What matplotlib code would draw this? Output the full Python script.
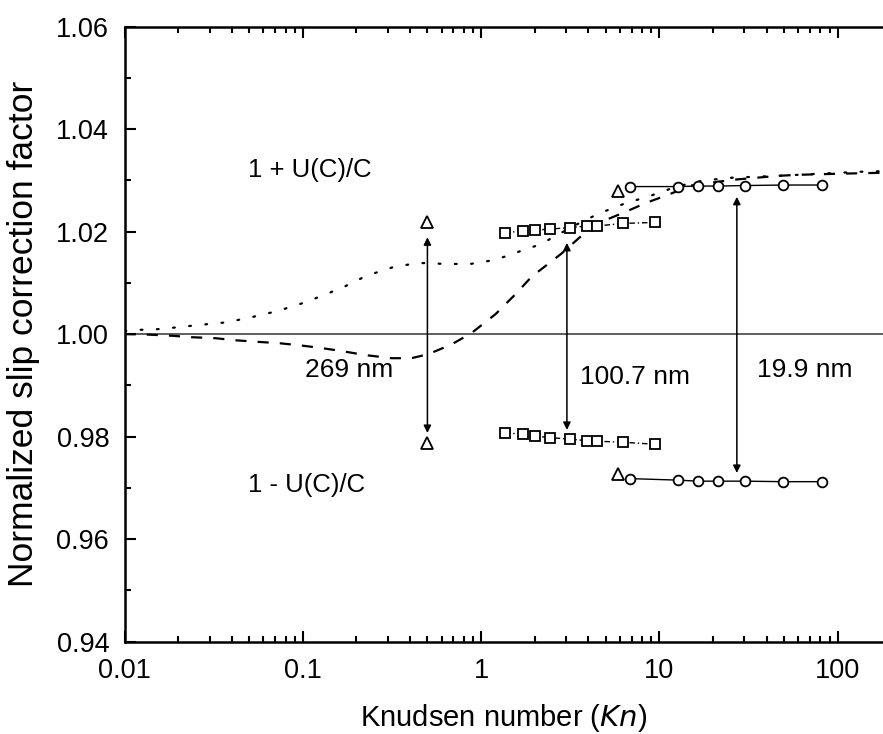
import matplotlib
matplotlib.use("Agg")
import matplotlib.pyplot as plt
from matplotlib.ticker import FixedLocator, NullFormatter, LogLocator

plt.rcParams['font.family'] = ['Liberation Sans', 'DejaVu Sans']

# dotted curve
dot_kn = [0.01, 0.0115, 0.0161, 0.0264, 0.0373, 0.0515, 0.0721, 0.101, 0.118, 0.165, 0.228, 0.323,
          0.446, 0.631, 0.872, 1.205, 1.66, 2.02, 2.39, 3.30, 4.55, 6.29, 8.91, 12.5, 17.2, 24.4,
          46.6, 78, 136, 180]
dot_y = [1.0006, 1.0008, 1.0010, 1.0018, 1.0023, 1.0033, 1.0045, 1.0061, 1.0070, 1.0090, 1.0114, 1.0131,
         1.0139, 1.0137, 1.0137, 1.0145, 1.0162, 1.0172, 1.0184, 1.0211, 1.0235, 1.0254, 1.0270, 1.0288,
         1.0299, 1.0305, 1.0309, 1.0313, 1.0317, 1.0318]

# dashed curve
dash_kn = [0.01, 0.0136, 0.0181, 0.0237, 0.0324, 0.0419, 0.0504, 0.075, 0.097, 0.126, 0.165, 0.225,
           0.315, 0.407, 0.507, 0.683, 0.883, 1.205, 1.56, 1.92, 2.82, 3.66, 4.55, 6.3, 8.4, 11.2,
           15.0, 25.4, 46.6, 61, 100, 180]
dash_y = [1.0000, 0.9999, 0.9997, 0.9994, 0.9992, 0.9988, 0.9986, 0.9982, 0.9978, 0.9973, 0.9967, 0.9959,
          0.9953, 0.9953, 0.9961, 0.9980, 1.0002, 1.0039, 1.0078, 1.0112, 1.0157, 1.0192, 1.0217, 1.0237,
          1.0256, 1.0272, 1.0290, 1.0301, 1.0309, 1.0311, 1.0313, 1.0315]

# 269 nm triangles
tri_kn = [0.50, 0.50]
tri_y = [1.0219, 0.9787]

# 100.7 nm squares
sq_kn = [1.36, 1.71, 2.01, 2.44, 3.15, 3.95, 4.45, 6.23, 9.45]
sq_up = [1.0197, 1.0202, 1.0203, 1.0205, 1.0208, 1.0211, 1.0211, 1.0216, 1.0218]
sq_lo = [0.9807, 0.9805, 0.9801, 0.9798, 0.9795, 0.9792, 0.9791, 0.9789, 0.9785]

# 19.9 nm triangle + circles
tri2_kn = [5.85, 5.85]
tri2_y = [1.0280, 0.9727]
ci_kn = [6.84, 12.7, 16.4, 21.3, 30.2, 49.4, 81.7]
ci_up = [1.0288, 1.0288, 1.0289, 1.0289, 1.0290, 1.0291, 1.0291]
ci_lo = [0.9718, 0.9715, 0.9713, 0.9713, 0.9713, 0.9712, 0.9712]

# arrows (Kn, top, bottom)
arr_kn = [0.50, 3.03, 27.2]
arr_top = [1.0189, 1.0178, 1.0268]
arr_bot = [0.9807, 0.9813, 0.9729]

labels = ["269 nm", "100.7 nm", "19.9 nm"]
label_kn = [0.103, 3.59, 35.2]
label_y = [0.9930, 0.9916, 0.9930]

fig = plt.figure(figsize=(8.83, 7.34), dpi=100)
ax = fig.add_axes([0.141, 0.126, 0.859, 0.8376])
ax.set_xscale('log')
ax.set_xlim(0.01, 179.6)
ax.set_ylim(0.94, 1.06)

ax.axhline(1.0, color='#333333', lw=1.1, zorder=1)
ax.plot(dot_kn, dot_y, color='black', lw=1.6, linestyle=(0, (0.8, 6.5)), dash_capstyle='round')
ax.plot(dash_kn, dash_y, color='black', lw=1.6, linestyle=(0, (5, 5)))

mk = dict(mfc='white', mec='black', mew=1.3, color='black')
ax.plot(tri_kn, tri_y, '^', ms=8, ls='none', **mk)
ax.plot(tri2_kn, tri2_y, '^', ms=8, ls='none', **mk)
ax.plot(sq_kn, sq_up, 's', ms=7.5, lw=1.0, ls=(0, (4, 2, 1, 2)), **mk)
ax.plot(sq_kn, sq_lo, 's', ms=7.5, lw=1.0, ls=(0, (4, 2, 1, 2)), **mk)
ax.plot(ci_kn, ci_up, 'o', ms=7, lw=1.0, ls='-', **mk)
ax.plot(ci_kn, ci_lo, 'o', ms=7, lw=1.0, ls='-', **mk)

for k, t, b in zip(arr_kn, arr_top, arr_bot):
    ax.annotate('', xy=(k, t), xytext=(k, b),
                arrowprops=dict(arrowstyle='<|-|>', color='black', lw=1.1,
                                mutation_scale=11, shrinkA=0, shrinkB=0))

for s, k, y in zip(labels, label_kn, label_y):
    ax.text(k, y, s, fontsize=19, ha='left', va='center')
ax.text(0.0493, 1.032, "1 + U(C)/C", fontsize=18.5, ha='left', va='center')
ax.text(0.0493, 0.9705, "1 - U(C)/C", fontsize=18.5, ha='left', va='center')

ax.set_xticks([0.01, 0.1, 1, 10, 100])
ax.set_xticklabels(['0.01', '0.1', '1', '10', '100'])
ax.xaxis.set_minor_locator(LogLocator(base=10, subs=range(2, 10), numticks=20))
ax.xaxis.set_minor_formatter(NullFormatter())
ax.set_yticks([0.94, 0.96, 0.98, 1.00, 1.02, 1.04, 1.06])
ax.set_yticklabels(['0.94', '0.96', '0.98', '1.00', '1.02', '1.04', '1.06'])
ax.yaxis.set_minor_locator(FixedLocator([0.95, 0.97, 0.99, 1.01, 1.03, 1.05]))

ax.spines['right'].set_visible(False)
for s in ['left', 'bottom', 'top']:
    ax.spines[s].set_linewidth(1.8)
ax.tick_params(which='both', direction='in', top=True, right=False, width=1.5, labelsize=19.5)
ax.tick_params(which='major', length=8)
ax.tick_params(axis='y', which='major', pad=11)
ax.tick_params(axis='x', which='major', pad=12)
ax.tick_params(which='minor', length=4.5)

ax.set_xlabel('Knudsen number ($\\mathit{Kn}$)', fontsize=21, labelpad=13)
ax.set_ylabel('Normalized slip correction factor', fontsize=25.5, labelpad=12)

fig.savefig('out.png', dpi=100)
